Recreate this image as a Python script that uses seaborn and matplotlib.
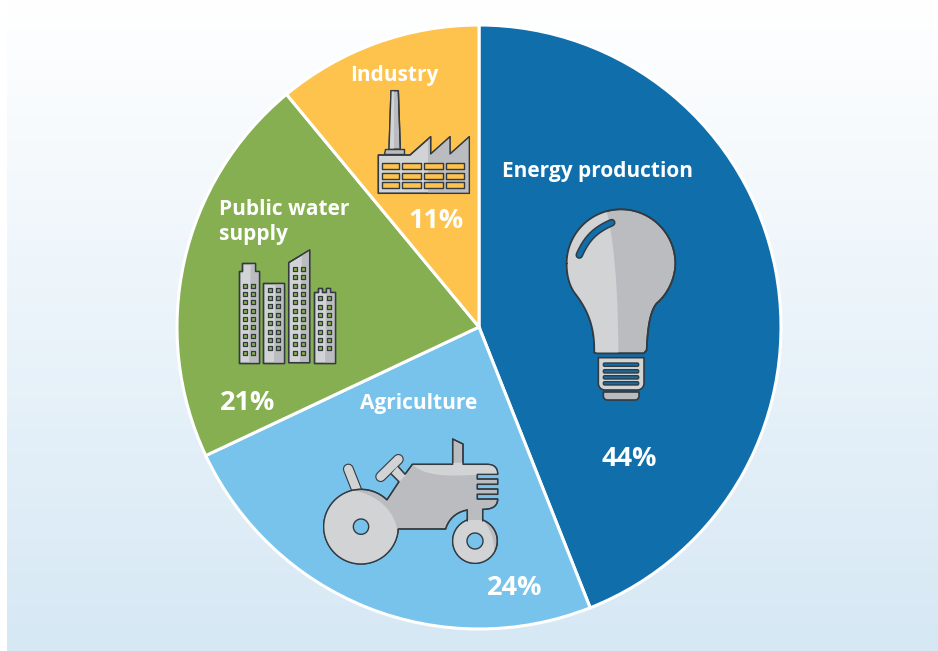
import numpy as np
import matplotlib
matplotlib.use("Agg")
import matplotlib.pyplot as plt
from matplotlib.patches import PathPatch
from matplotlib.path import Path
import seaborn as sns

sectors = ["Energy production", "Agriculture", "Public water\nsupply", "Industry"]
shares = [44, 24, 21, 11]
share_labels = ["44%", "24%", "21%", "11%"]
sector_colors = ["#106FAB", "#78C3EC", "#85AF50", "#FEC34D"]

# where the texts sit, in picture pixels
name_pos = [(502, 171), (360, 403), (219, 222), (350, 75)]
share_pos = [(629, 459), (515, 588), (248, 403), (436, 221)]

LIGHT = "#D2D3D5"
DARK = "#BBBCC0"
LINE = "#333A40"

sns.set_theme(style="white")
plt.rcParams["font.family"] = ["Open Sans", "DejaVu Sans"]

fig = plt.figure(figsize=(9.38, 6.51), dpi=100, facecolor="white")

# background gradient
bg = fig.add_axes([0, 0, 1, 1])
grad = np.linspace(0, 1, 256).reshape(-1, 1)
top = np.array([1.0, 1.0, 1.0])
bottom = np.array([0.84, 0.91, 0.96])
bg.imshow(top + grad[..., None] * (bottom - top), extent=(7, 938, 651, 0), aspect="auto")
bg.set_xlim(0, 938)
bg.set_ylim(651, 0)
bg.axis("off")

# pie
ax = fig.add_axes([0, 0, 1, 1])
ax.patch.set_alpha(0)
ax.pie(shares, colors=sns.color_palette(sector_colors), startangle=90, counterclock=False,
       center=(479, 651 - 327), radius=302, wedgeprops={"edgecolor": "white", "linewidth": 2.2})
ax.set_xlim(0, 938)
ax.set_ylim(0, 651)
ax.axis("off")

# overlay for icons and text, y runs down like the picture
ov = fig.add_axes([0, 0, 1, 1])
ov.patch.set_alpha(0)
ov.set_xlim(0, 938)
ov.set_ylim(651, 0)
ov.axis("off")


def arc(cx, cy, r, a0, a1):
    t = np.radians(np.linspace(a0, a1, 60))
    return np.column_stack([cx + r * np.cos(t), cy + r * np.sin(t)])


def bez(p0, p1, p2, p3):
    t = np.linspace(0, 1, 30)[:, None]
    p0, p1, p2, p3 = map(np.array, (p0, p1, p2, p3))
    return (1 - t) ** 3 * p0 + 3 * (1 - t) ** 2 * t * p1 + 3 * (1 - t) * t ** 2 * p2 + t ** 3 * p3


def shape(parts, origin, face, edge=LINE, lw=1.0, z=3, clip=None):
    # parts are in zoomed crop coordinates (3x), origin is the crop corner
    pts = np.vstack([np.atleast_2d(p) for p in parts]) / 3 + np.array(origin)
    patch = PathPatch(Path(np.vstack([pts, pts[0]]), closed=True), facecolor=face, edgecolor=edge,
                      linewidth=lw, zorder=z, joinstyle="round")
    ov.add_patch(patch)
    if clip is not None:
        patch.set_clip_path(clip)
    return patch


def stroke(parts, origin, width, color, z=4):
    pts = np.vstack([np.atleast_2d(p) for p in parts]) / 3 + np.array(origin)
    ov.plot(pts[:, 0], pts[:, 1], color=color, lw=width, solid_capstyle="round", zorder=z)


def round_box(x0, y0, x1, y1, r, origin, face, edge=LINE, lw=1.0, z=4):
    return shape([arc(x1 - r, y0 + r, r, -90, 0), arc(x1 - r, y1 - r, r, 0, 90),
                  arc(x0 + r, y1 - r, r, 90, 180), arc(x0 + r, y0 + r, r, 180, 270)],
                 origin, face, edge, lw, z)


# light bulb
o = (540, 190)
glass = [(172, 490), bez((163, 488), (163, 440), (160, 380), (105, 310)),
         bez((105, 310), (90, 290), (80, 260), (80, 220)),
         arc(243, 221, 163, 180, 360),
         bez((406, 221), (405, 270), (380, 315), (350, 340)),
         bez((350, 340), (325, 370), (322, 440), (320, 480)), (312, 490)]
bulb = shape(glass, o, DARK, lw=1.2)
shape([(200, 40), bez((200, 65), (225, 160), (235, 330), (235, 500)), (60, 500), (60, 40)],
      o, LIGHT, edge="none", z=3.2, clip=bulb)
shape(glass, o, "none", lw=1.2, z=3.4)
hl = bez((118, 195), (140, 145), (165, 120), (215, 98))
stroke([hl], o, 5.6, LINE, z=4)
stroke([hl], o, 3.4, sector_colors[0], z=4.1)
socket = [(175, 503), (312, 503), (312, 578), arc(292, 580, 20, 0, 90), arc(195, 580, 20, 90, 180)]
shape(socket, o, LIGHT, lw=1.2)
for y in [524, 544, 562, 580]:
    round_box(190, y - 5, 296, y + 5, 4, o, sector_colors[0], z=4.2)
shape([(190, 606), (297, 606), (297, 618), arc(285, 618, 12, 0, 90), arc(202, 618, 12, 90, 180)],
      o, DARK, lw=1.2, z=4)

# tractor
o = (310, 425)
stroke([(115, 132), (142, 200)], o, 7.8, LINE, z=2.5)
stroke([(115, 132), (142, 200)], o, 6.2, LIGHT, z=2.6)
stroke([(212, 155), (265, 103)], o, 7.8, LINE, z=2.5)
stroke([(212, 155), (265, 103)], o, 6.2, LIGHT, z=3.5)
body = [(307, 118), (428, 118), (428, 42), (459, 57), (459, 118), (530, 118),
        bez((530, 118), (555, 118), (563, 130), (563, 148)),
        (502, 148), (502, 162), (563, 162), (563, 178), (502, 178), (502, 192), (563, 192),
        (563, 208), (502, 208), (502, 222), (563, 222),
        bez((563, 222), (563, 245), (545, 253), (518, 253)),
        (518, 288), arc(495, 348, 67, -69, 249), (472, 288), (472, 255),
        bez((472, 255), (435, 262), (415, 285), (407, 312)),
        (265, 312), arc(153, 305, 112, 4, 314), (267, 170), (242, 145), (262, 122), (285, 148)]
tractor = shape(body, o, DARK, lw=1.0)
shape([(307, 118), (540, 110), (570, 148), (480, 150), bez((480, 150), (400, 155), (340, 150), (307, 118))],
      o, LIGHT, edge="none", z=3.2, clip=tractor)
shape([bez((125, 195), (190, 205), (255, 250), (262, 320)), arc(153, 305, 116, 10, 240)],
      o, LIGHT, edge="none", z=3.2, clip=tractor)
shape([(470, 285), bez((520, 285), (555, 330), (552, 372), (552, 372)), arc(495, 348, 70, 30, 250)],
      o, LIGHT, edge="none", z=3.2, clip=tractor)
shape([(236, 148), (262, 118), (290, 148), (267, 172)], o, LIGHT, edge="none", z=3.2, clip=tractor)
shape(body, o, "none", lw=1.0, z=3.4)
for cx, cy, r in [(153, 305, 23), (495, 348, 24)]:
    shape([arc(cx, cy, r, 0, 360)], o, sector_colors[1], lw=1.0, z=4)

# buildings
o = (225, 240)
towers = [
    ([(41, 368), (41, 93), (52, 93), (52, 68), (91, 68), (91, 93), (103, 93), (103, 368)],
     (41, 103), (59, 85), [137, 162, 187, 212, 237, 262, 287, 312, 338]),
    ([(115, 368), (115, 130), (178, 130), (178, 368)], (115, 178), (134, 160),
     [149, 174, 199, 225, 250, 275, 300, 325]),
    ([(191, 368), (191, 68), (254, 30), (254, 368)], (191, 254), (210, 235),
     [87, 112, 137, 162, 187, 212, 237, 262, 287, 312, 338]),
    ([(266, 368), (266, 155), (278, 155), (278, 143), (291, 143), (291, 155), (303, 155), (303, 143),
      (316, 143), (316, 155), (329, 155), (329, 368)], (266, 329), (286, 311),
     [175, 200, 225, 250, 275, 300, 325]),
]
for tower, (x0, x1), cols, rows in towers:
    t = shape(tower, o, LIGHT)
    shape([(x0 + (x1 - x0) * 0.62, 20), (x1 + 2, 20), (x1 + 2, 370), (x0 + (x1 - x0) * 0.52, 370)],
          o, DARK, edge="none", z=3.2, clip=t)
    shape(tower, o, "none", z=3.4)
    for cx in cols:
        for cy in rows:
            shape([(cx - 6, cy - 6), (cx + 6, cy - 6), (cx + 6, cy + 6), (cx - 6, cy + 6)],
                  o, sector_colors[2], lw=0.9, z=4)

# factory
o = (365, 80)
chimney = shape([(78, 32), (100, 32), (106, 208), (72, 208)], o, DARK, z=3)
shape([(70, 30), (88, 30), (88, 210), (70, 210)], o, LIGHT, edge="none", z=3.05, clip=chimney)
shape([(78, 32), (100, 32), (106, 208), (72, 208)], o, "none", z=3.06)
shape([(60, 208), (118, 208), (118, 222), (58, 222)], o, DARK, z=3)
plant = [(40, 225), (135, 225), (197, 170), (197, 222), (255, 170), (255, 222), (313, 170), (313, 340), (40, 340)]
fac = shape(plant, o, LIGHT, z=3.1)
shape([(190, 160), (320, 160), (320, 345), (190, 345)], o, DARK, edge="none", z=3.2, clip=fac)
shape(plant, o, "none", z=3.4)
for y0, y1 in [(250, 268), (279, 296), (307, 325)]:
    for x0, x1 in [(52, 103), (112, 167), (177, 235), (243, 296)]:
        shape([(x0, y0), (x1, y0), (x1, y1), (x0, y1)], o, sector_colors[3], lw=1.0, z=4)

# labels
for i, name in enumerate(sectors):
    x, y = name_pos[i]
    ov.text(x, y, name, color="white", fontsize=15.0, fontweight="bold", ha="left", va="center",
            linespacing=1.25, zorder=6)
    x, y = share_pos[i]
    ov.text(x, y, share_labels[i], color="white", fontsize=19.5, fontweight="bold", ha="center", va="center", zorder=6)

fig.savefig("out.png", dpi=100)
